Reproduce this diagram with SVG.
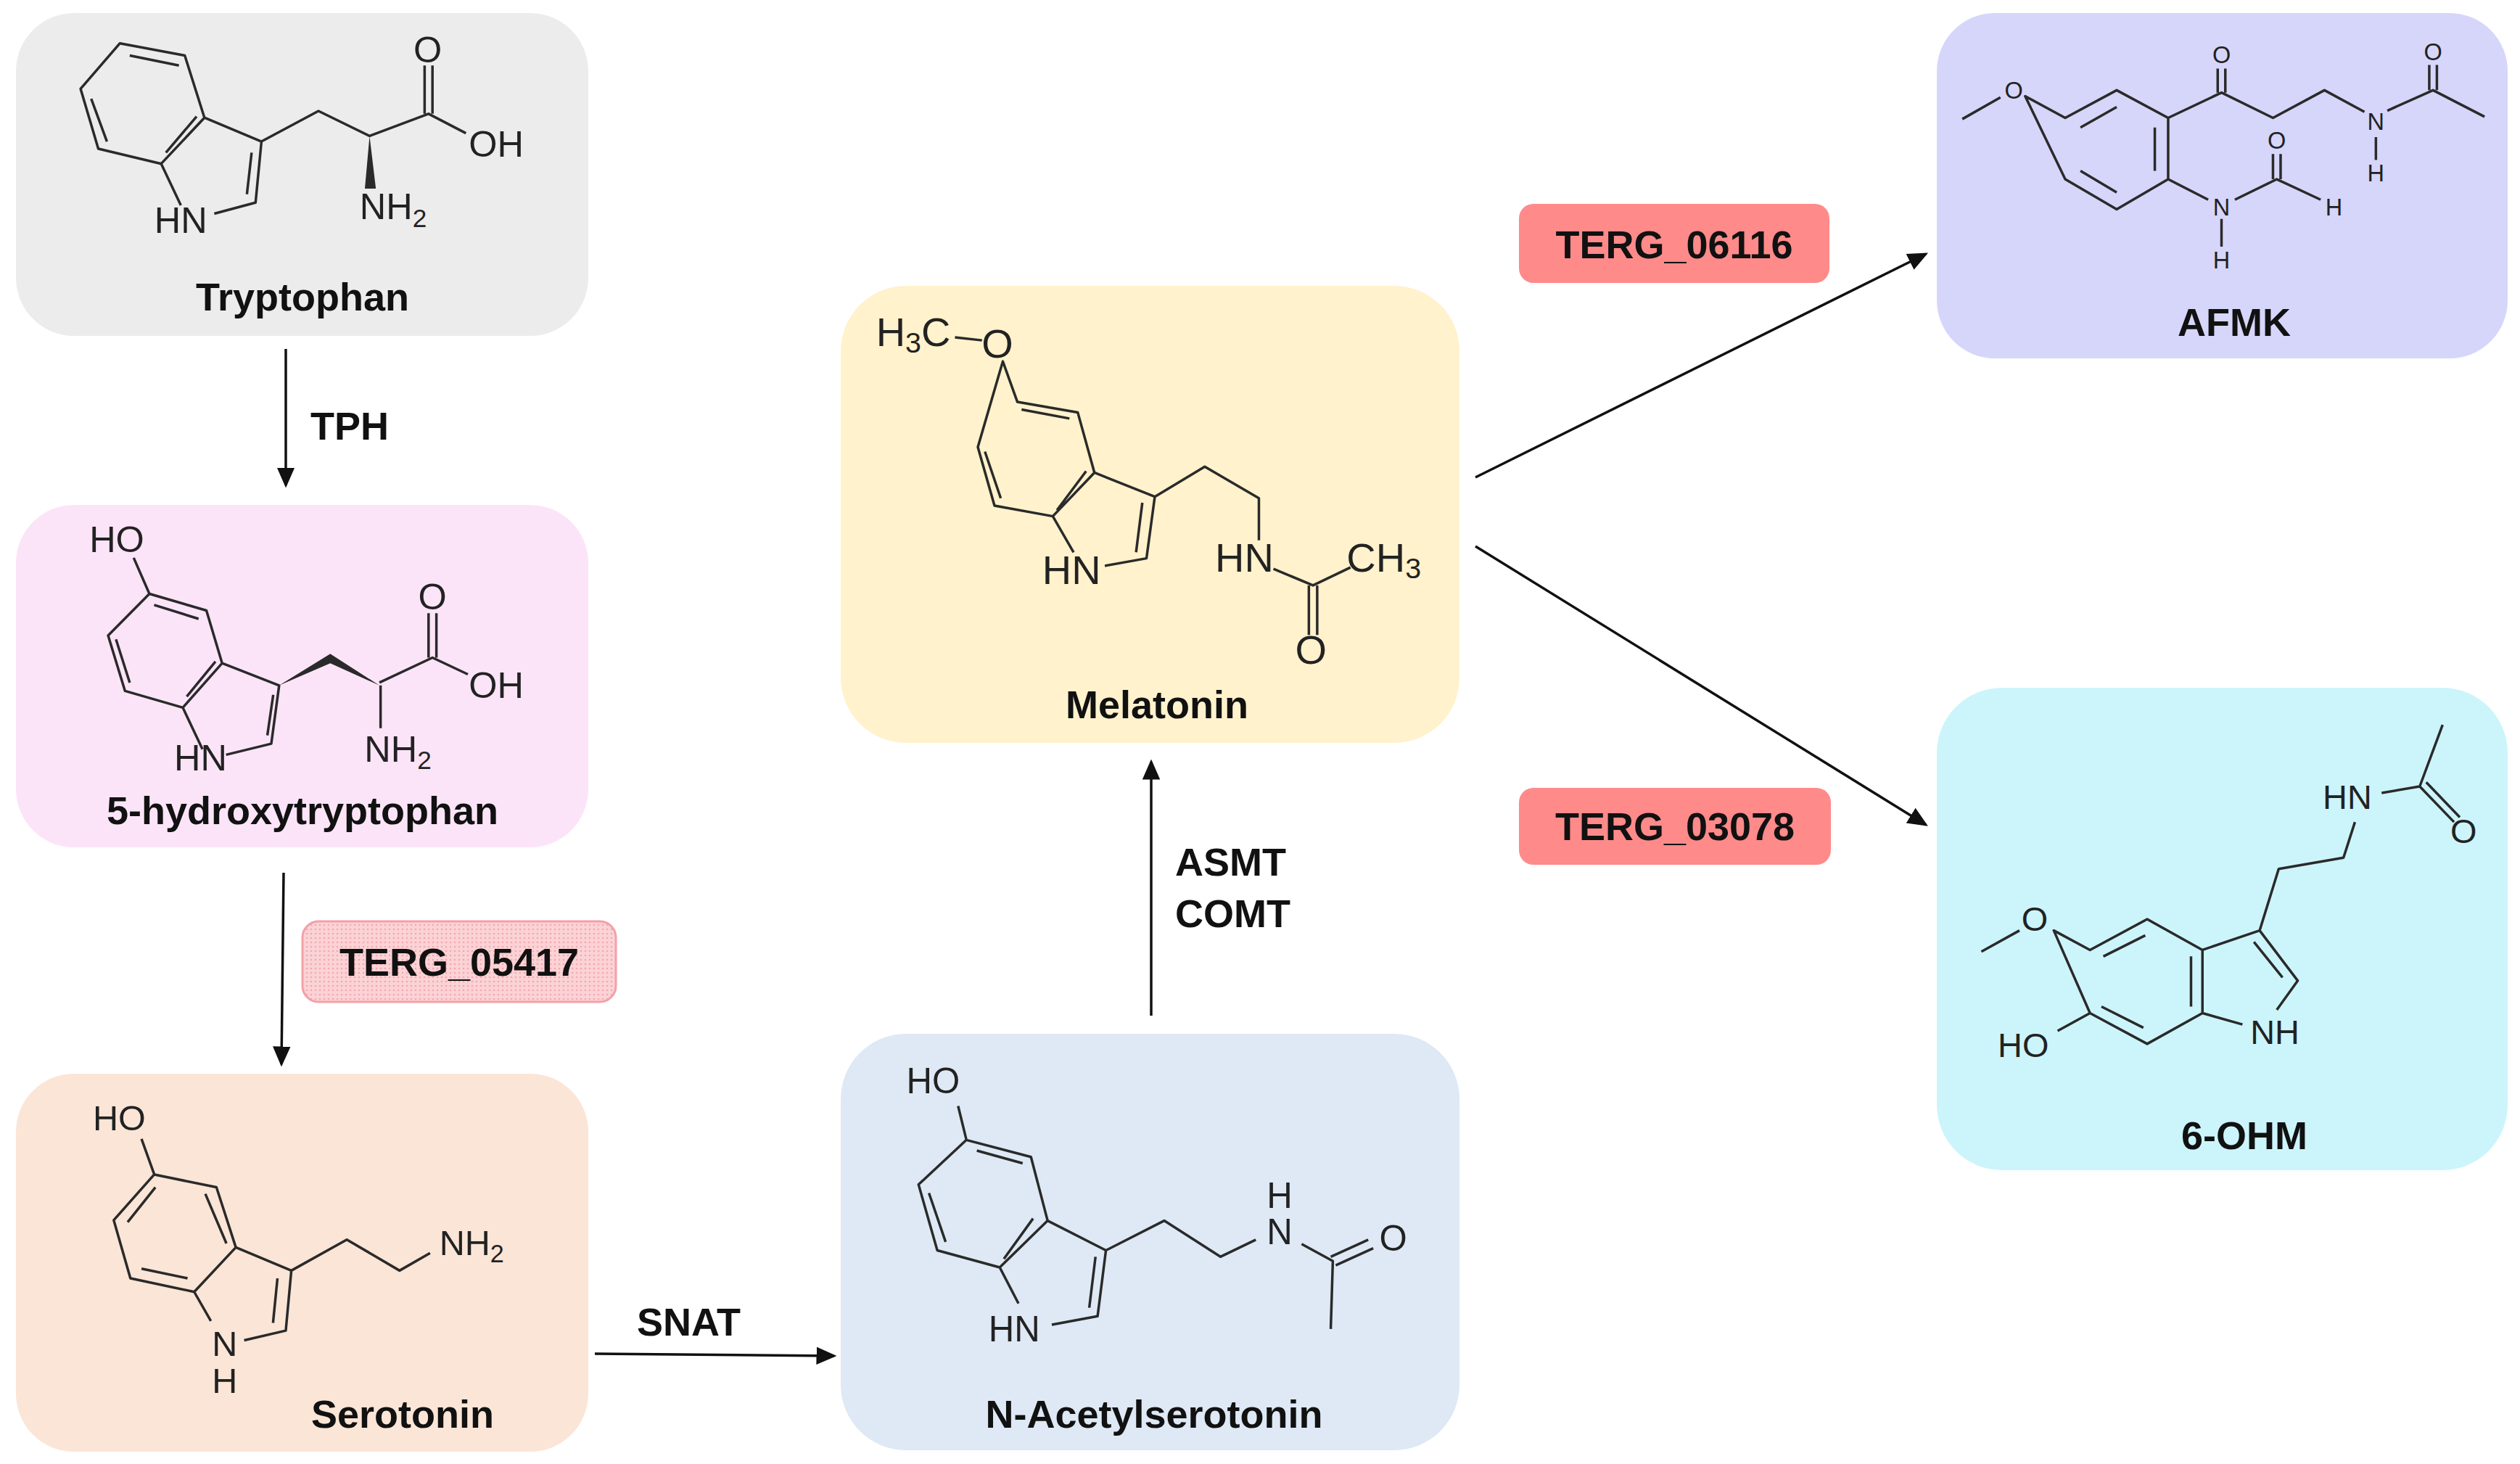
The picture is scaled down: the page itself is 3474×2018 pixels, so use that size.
<svg xmlns="http://www.w3.org/2000/svg" width="3474" height="2018" viewBox="0 0 3474 2018">
<style>
.box{stroke:none}
.name{font-family:"Liberation Sans",Arial,sans-serif;font-weight:bold;font-size:54px;fill:#111;text-anchor:middle}
.enz{font-family:"Liberation Sans",Arial,sans-serif;font-weight:bold;font-size:54px;fill:#111}
.b{fill:none;stroke:#2a2a2a;stroke-width:3.5;vector-effect:non-scaling-stroke;stroke-linejoin:round}
.at{font-family:"Liberation Sans",Arial,sans-serif;fill:#222;text-anchor:middle}
.c{stroke:#111;stroke-width:3.5;fill:none;marker-end:url(#ah)}
</style>
<defs>
<marker id="ah" markerWidth="8" markerHeight="8" refX="7" refY="4" orient="auto" markerUnits="strokeWidth"><path d="M0,0.5 L8,4 L0,7.5 Z" fill="#111"/></marker>
<pattern id="dots" width="6" height="6" patternUnits="userSpaceOnUse"><rect width="6" height="6" fill="#fbd3d6"/><circle cx="3" cy="3" r="1.3" fill="#f4a7ad"/></pattern>
</defs>
<rect width="3474" height="2018" fill="#fff"/>

<g id="tryptophan">
<rect class="box" x="22" y="18" width="789" height="445" rx="80" fill="#ececec"/>
<g transform="scale(0.542 0.765)">
<path class="b" d="M205,160 L305,78 L470,100 L520,212 L410,295 L250,268 Z M232,178 L272,255 M330,100 L455,118 M422,275 L500,210 M520,212 L665,255 L650,365 L545,385 M410,295 L460,370 M640,275 L628,350 M665,255 L810,200 L940,245 L1090,205 L1185,240 M1080,205 L1080,118 M1100,205 L1100,118"/>
<polygon points="940,245 928,340 956,340" fill="#2a2a2a"/>
<g font-size="66" class="at">
<text class="at" transform="translate(1088 112) scale(1.411 1)">O</text>
<text class="at" transform="translate(1262 282) scale(1.411 1)">OH</text>
<text class="at" transform="translate(460 420) scale(1.411 1)">HN</text>
<text class="at" transform="translate(1000 395) scale(1.411 1)">NH<tspan font-size="46" dy="14">2</tspan></text>
</g>
</g>
<text class="name" x="417" y="428">Tryptophan</text>
</g>

<g id="hydroxytryptophan">
<rect class="box" x="22" y="696" width="789" height="472" rx="80" fill="#fce4f8"/>
<g transform="scale(0.542 0.765)">
<path class="b" d="M380,1070 L525,1100 L565,1195 L465,1275 L318,1245 L275,1145 Z M392,1090 L505,1115 M295,1152 L330,1230 M475,1255 L548,1192 M380,1070 L340,1005 M565,1195 L710,1235 L690,1340 L575,1360 M465,1275 L515,1350 M695,1252 L680,1325 M965,1230 L1100,1185 L1190,1215 M1090,1185 L1090,1105 M1110,1185 L1110,1105 M968,1235 L968,1312"/>
<polygon points="710,1235 840,1178 965,1235 840,1195" fill="#2a2a2a"/>
<g font-size="66">
<text class="at" transform="translate(297 995) scale(1.411 1)">HO</text>
<text class="at" transform="translate(1100 1098) scale(1.411 1)">O</text>
<text class="at" transform="translate(1262 1258) scale(1.411 1)">OH</text>
<text class="at" transform="translate(510 1388) scale(1.411 1)">HN</text>
<text class="at" transform="translate(1012 1372) scale(1.411 1)">NH<tspan font-size="46" dy="14">2</tspan></text>
</g>
</g>
<text class="name" x="417" y="1136">5-hydroxytryptophan</text>
</g>

<g id="serotonin">
<rect class="box" x="22" y="1480" width="789" height="521" rx="80" fill="#fbe5d6"/>
<g transform="translate(0 1180) scale(0.765 0.534)">
<path class="b" d="M278,822 L390,855 L425,1010 L350,1125 L235,1090 L205,940 Z M230,945 L280,855 M370,872 L408,1000 M255,1065 L338,1090 M255,730 L278,822 M425,1010 L525,1070 L515,1225 L440,1250 M350,1125 L380,1200 M500,1090 L492,1205 M525,1070 L625,990 L720,1070 L775,1025"/>
<g font-size="91">
<text class="at" transform="translate(215 708) scale(0.698 1)">HO</text>
<text class="at" transform="translate(850 1030) scale(0.698 1)">NH<tspan font-size="64" dy="18">2</tspan></text>
<text class="at" transform="translate(405 1290) scale(0.698 1)">N</text>
<text class="at" transform="translate(405 1385) scale(0.698 1)">H</text>
</g>
</g>
<text class="name" x="555" y="1968">Serotonin</text>
</g>

<g id="n-acetylserotonin">
<rect class="box" x="1159" y="1425" width="853" height="574" rx="90" fill="#dee9f5"/>
<g transform="translate(1140 1100) scale(0.574 0.5855)">
<path class="b" d="M335,805 L490,845 L530,995 L415,1105 L265,1065 L220,910 Z M360,830 L470,860 M245,930 L285,1045 M425,1085 L495,990 M315,725 L335,805 M530,995 L670,1065 L650,1220 L540,1240 M415,1105 L460,1190 M645,1080 L630,1200 M670,1065 L810,995 L945,1080 L1030,1040 M1140,1050 L1215,1090 L1210,1250 M1210,1080 L1300,1040 M1222,1100 L1312,1060"/>
<g font-size="84">
<text class="at" transform="translate(255 695) scale(1.02 1)">HO</text>
<text class="at" transform="translate(450 1280) scale(1.02 1)">HN</text>
<text class="at" transform="translate(1087 965) scale(1.02 1)">H</text>
<text class="at" transform="translate(1087 1050) scale(1.02 1)">N</text>
<text class="at" transform="translate(1360 1065) scale(1.02 1)">O</text>
</g>
</g>
<text class="name" x="1591" y="1968">N-Acetylserotonin</text>
</g>

<g id="melatonin">
<rect class="box" x="1159" y="394" width="853" height="630" rx="90" fill="#fff2cc"/>
<g transform="translate(1150 380) scale(0.574 0.4145)">
<path class="b" d="M290,205 L355,215 M405,285 L440,420 L585,455 L625,655 L525,800 L385,765 L345,570 Z M450,445 L565,475 M362,585 L400,740 M535,780 L605,650 M625,655 L770,735 L750,940 L650,965 M525,800 L575,920 M740,755 L725,920 M770,735 L890,635 L1020,740 L1020,880 M1055,975 L1150,1030 L1240,970 M1140,1030 L1140,1195 M1160,1030 L1160,1195"/>
<g font-size="135">
<text class="at" transform="translate(392 272) scale(0.722 1)">O</text>
<text class="at" transform="translate(190 235) scale(0.722 1)">H<tspan font-size="95" dy="20">3</tspan><tspan dy="-20">C</tspan></text>
<text class="at" transform="translate(570 1025) scale(0.722 1)">HN</text>
<text class="at" transform="translate(985 985) scale(0.722 1)">HN</text>
<text class="at" transform="translate(1320 985) scale(0.722 1)">CH<tspan font-size="95" dy="20">3</tspan></text>
<text class="at" transform="translate(1145 1290) scale(0.722 1)">O</text>
</g>
</g>
<text class="name" x="1595" y="990">Melatonin</text>
</g>

<g id="afmk">
<rect class="box" x="2670" y="18" width="787" height="476" rx="80" fill="#d6d6fb"/>
<g transform="translate(2650 0) scale(0.5255 0.3316)">
<path class="b" d="M105,495 L205,405 M270,400 L375,490 L510,375 L645,490 L645,745 L510,870 L375,745 Z M415,530 L510,445 M610,530 L610,710 M415,710 L510,800 M645,490 L785,385 L920,490 L1055,375 L1160,465 M775,385 L775,285 M795,385 L795,285 M1190,570 L1190,665 M1220,460 L1340,375 L1475,485 M1330,375 L1330,270 M1350,375 L1350,270 M645,745 L750,830 M785,910 L785,1025 M820,830 L930,745 L1045,830 M920,745 L920,640 M940,745 L940,640"/>
<g font-size="98">
<text class="at" transform="translate(240 410) scale(0.631 1)">O</text>
<text class="at" transform="translate(785 262) scale(0.631 1)">O</text>
<text class="at" transform="translate(1190 540) scale(0.631 1)">N</text>
<text class="at" transform="translate(1190 755) scale(0.631 1)">H</text>
<text class="at" transform="translate(1340 250) scale(0.631 1)">O</text>
<text class="at" transform="translate(785 895) scale(0.631 1)">N</text>
<text class="at" transform="translate(785 1115) scale(0.631 1)">H</text>
<text class="at" transform="translate(930 617) scale(0.631 1)">O</text>
<text class="at" transform="translate(1080 895) scale(0.631 1)">H</text>
</g>
</g>
<text class="name" x="3080" y="463">AFMK</text>
</g>

<g id="ohm6">
<rect class="box" x="2670" y="948" width="787" height="665" rx="90" fill="#ccf5fb"/>
<g transform="translate(2650 930) scale(0.5255 0.4464)">
<path class="b" d="M155,855 L255,790 M345,790 L440,850 L590,755 L735,850 L735,1045 L590,1140 L440,1045 Z M475,870 L585,805 M705,870 L705,1025 M470,1025 L580,1090 M440,1045 L355,1100 M735,850 L885,790 L985,945 L930,1035 M735,1045 L840,1080 M870,825 L945,935 M885,790 L935,600 L1105,565 L1135,455 M1205,365 L1305,345 L1365,155 M1305,345 L1395,455 M1322,332 L1410,440"/>
<g font-size="105">
<text class="at" transform="translate(295 790) scale(0.85 1)">O</text>
<text class="at" transform="translate(265 1180) scale(0.85 1)">HO</text>
<text class="at" transform="translate(925 1140) scale(0.85 1)">NH</text>
<text class="at" transform="translate(1115 415) scale(0.85 1)">HN</text>
<text class="at" transform="translate(1420 520) scale(0.85 1)">O</text>
</g>
</g>
<text class="name" x="3094" y="1584">6-OHM</text>
</g>

<g id="terg05417">
<rect x="417" y="1270" width="432" height="111" rx="22" fill="url(#dots)" stroke="#f3a0a8" stroke-width="3"/>
<text class="enz" x="633" y="1345" text-anchor="middle">TERG_05417</text>
</g>
<g id="terg06116">
<rect x="2094" y="281" width="428" height="109" rx="20" fill="#ff8a8a"/>
<text class="enz" x="2308" y="356" text-anchor="middle">TERG_06116</text>
</g>
<g id="terg03078">
<rect x="2094" y="1086" width="430" height="106" rx="20" fill="#ff8a8a"/>
<text class="enz" x="2309" y="1158" text-anchor="middle">TERG_03078</text>
</g>

<g id="connectors">
<line class="c" x1="394" y1="481" x2="394" y2="669"/>
<line class="c" x1="391" y1="1203" x2="388" y2="1467"/>
<line class="c" x1="820" y1="1866" x2="1150" y2="1869"/>
<line class="c" x1="1587" y1="1400" x2="1587" y2="1050"/>
<line class="c" x1="2034" y1="658" x2="2655" y2="350"/>
<line class="c" x1="2034" y1="753" x2="2655" y2="1137"/>
<text class="enz" x="428" y="606">TPH</text>
<text class="enz" x="878" y="1841">SNAT</text>
<text class="enz" x="1620" y="1207">ASMT</text>
<text class="enz" x="1620" y="1278">COMT</text>
</g>
</svg>
